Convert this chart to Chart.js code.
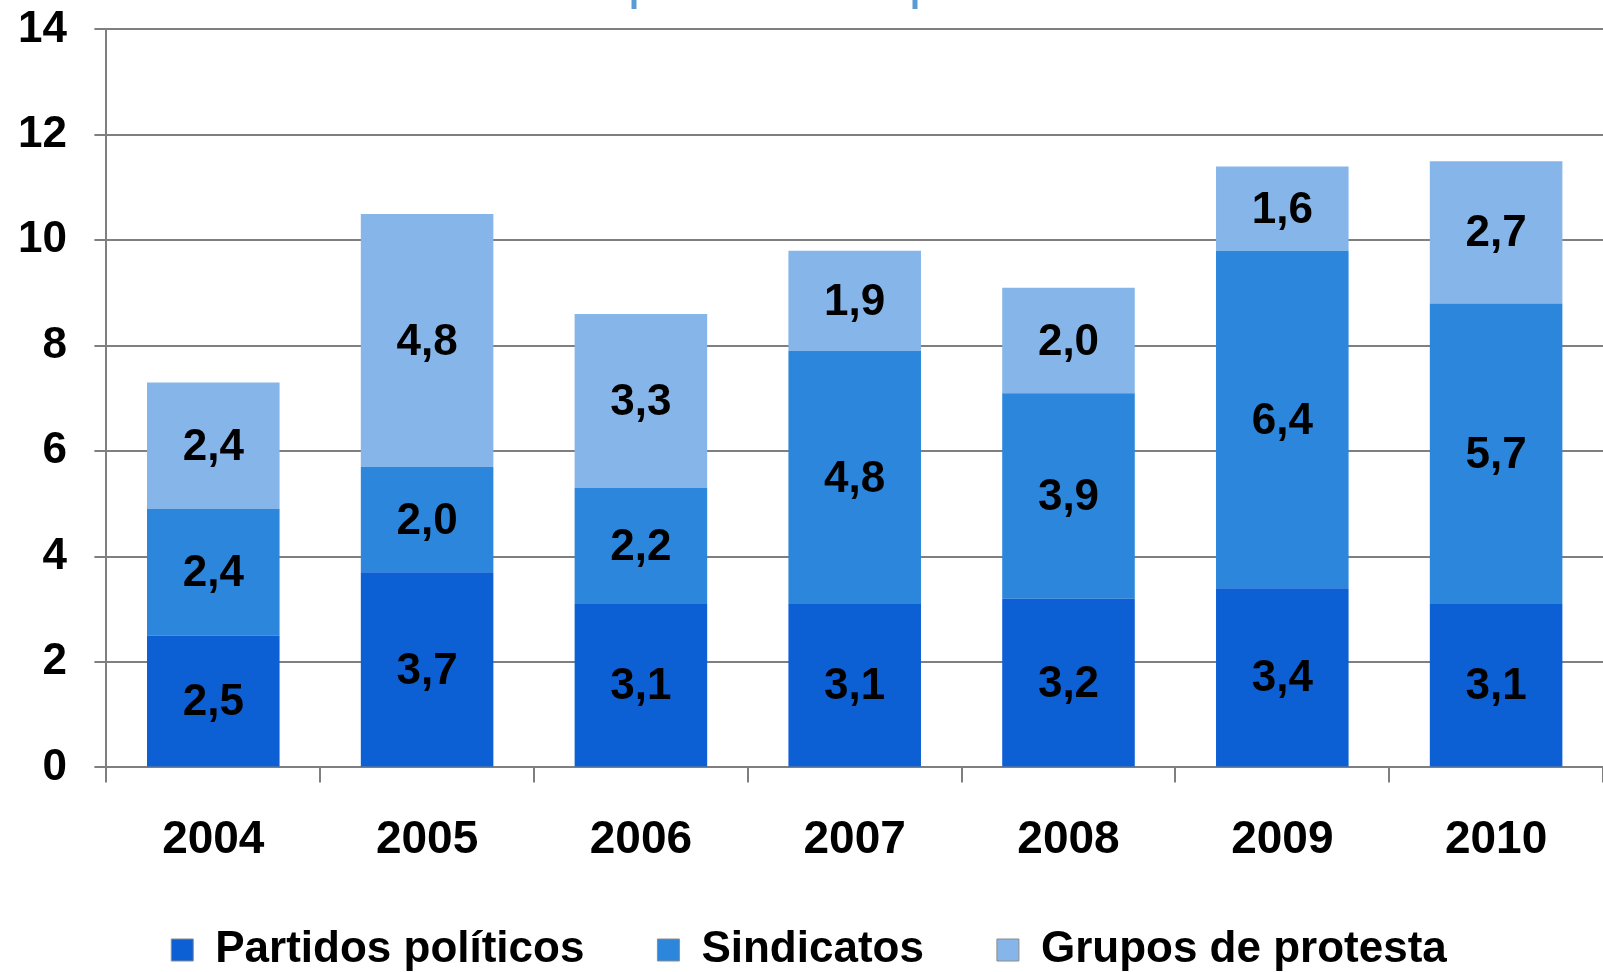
<!DOCTYPE html>
<html>
<head>
<meta charset="utf-8">
<script src="https://cdn.jsdelivr.net/npm/chart.js@4/dist/chart.umd.min.js"></script>
<style>
  html, body { margin: 0; padding: 0; background: #fff; }
  #wrap { width: 1603px; height: 972px; }
</style>
</head>
<body>
<div id="wrap"><canvas id="chart"></canvas></div>
<script>
// years on the x axis
const years = ["2004", "2005", "2006", "2007", "2008", "2009", "2010"];

// values per series
const partidos = [2.5, 3.7, 3.1, 3.1, 3.2, 3.4, 3.1];
const sindicatos = [2.4, 2.0, 2.2, 4.8, 3.9, 6.4, 5.7];
const grupos = [2.4, 4.8, 3.3, 1.9, 2.0, 1.6, 2.7];

const seriesNames = ["Partidos políticos", "Sindicatos", "Grupos de protesta"];
const yTicks = [0, 2, 4, 6, 8, 10, 12, 14];

const FONT = "'Liberation Sans', Arial, sans-serif";

// writes the value in the middle of every bar segment, with a comma decimal
const barLabels = {
    id: 'barLabels',
    afterDatasetsDraw(chart) {
        const ctx = chart.ctx;
        ctx.save();
        ctx.font = "bold 44px " + FONT;
        ctx.fillStyle = "#000";
        ctx.textAlign = "center";
        ctx.textBaseline = "middle";
        chart.data.datasets.forEach((ds, i) => {
            const meta = chart.getDatasetMeta(i);
            meta.data.forEach((bar, j) => {
                const p = bar.getCenterPoint();
                ctx.fillText(ds.data[j].toFixed(1).replace('.', ','), p.x, p.y + 2);
            });
        });
        ctx.restore();
    }
};

// the two little blue strokes left over from a title box at the top
const topMarks = {
    id: 'topMarks',
    beforeDraw(chart) {
        const ctx = chart.ctx;
        ctx.save();
        ctx.strokeStyle = "#5b9bd5";
        ctx.lineWidth = 5;
        [634, 915].forEach(x => {
            ctx.beginPath();
            ctx.moveTo(x, 0);
            ctx.lineTo(x, 9);
            ctx.stroke();
        });
        ctx.restore();
    }
};

new Chart(document.getElementById('chart'), {
    type: 'bar',
    data: {
        labels: years,
        datasets: [
            { label: seriesNames[0], data: partidos, backgroundColor: '#0d5fd4' },
            { label: seriesNames[1], data: sindicatos, backgroundColor: '#2c86dc' },
            { label: seriesNames[2], data: grupos, backgroundColor: '#85b5e9' }
        ]
    },
    options: {
        responsive: true,
        maintainAspectRatio: false,
        animation: false,
        layout: { padding: { left: 15, right: 0, top: 0, bottom: -10 } },
        datasets: {
            bar: { barPercentage: 0.62, categoryPercentage: 1.0 }
        },
        plugins: {
            legend: {
                position: 'bottom',
                labels: {
                    font: { family: FONT, size: 44, weight: 'bold' },
                    color: '#000',
                    boxWidth: 22,
                    boxHeight: 22,
                    padding: 29,
                    generateLabels(chart) {
                        const items = Chart.defaults.plugins.legend.labels.generateLabels(chart);
                        items.forEach((it, i) => {
                            it.strokeStyle = '#8c8c8c';
                            it.lineWidth = 1;
                            // a little extra room between the legend entries
                            if (i < items.length - 1) it.text = it.text + '\u2003';
                        });
                        return items;
                    }
                }
            },
            tooltip: { enabled: false }
        },
        scales: {
            x: {
                stacked: true,
                grid: { drawOnChartArea: false, offset: true, tickLength: 15, color: '#7f7f7f', lineWidth: 2 },
                border: { color: '#7f7f7f', width: 2 },
                ticks: { font: { family: FONT, size: 46, weight: 'bold', lineHeight: 1.1 }, color: '#000', padding: 33 }
            },
            y: {
                stacked: true,
                min: 0,
                max: 14,
                afterBuildTicks(axis) { axis.ticks = yTicks.map(v => ({ value: v })); },
                grid: { color: '#7f7f7f', lineWidth: 2, tickLength: 12 },
                border: { color: '#7f7f7f', width: 2 },
                ticks: {
                    font: { family: FONT, size: 44, weight: 'bold' },
                    color: '#000',
                    padding: 3,
                    // trailing spaces keep the numbers away from the tick marks
                    callback: v => v + '  '
                }
            }
        }
    },
    plugins: [barLabels, topMarks]
});
</script>
</body>
</html>
